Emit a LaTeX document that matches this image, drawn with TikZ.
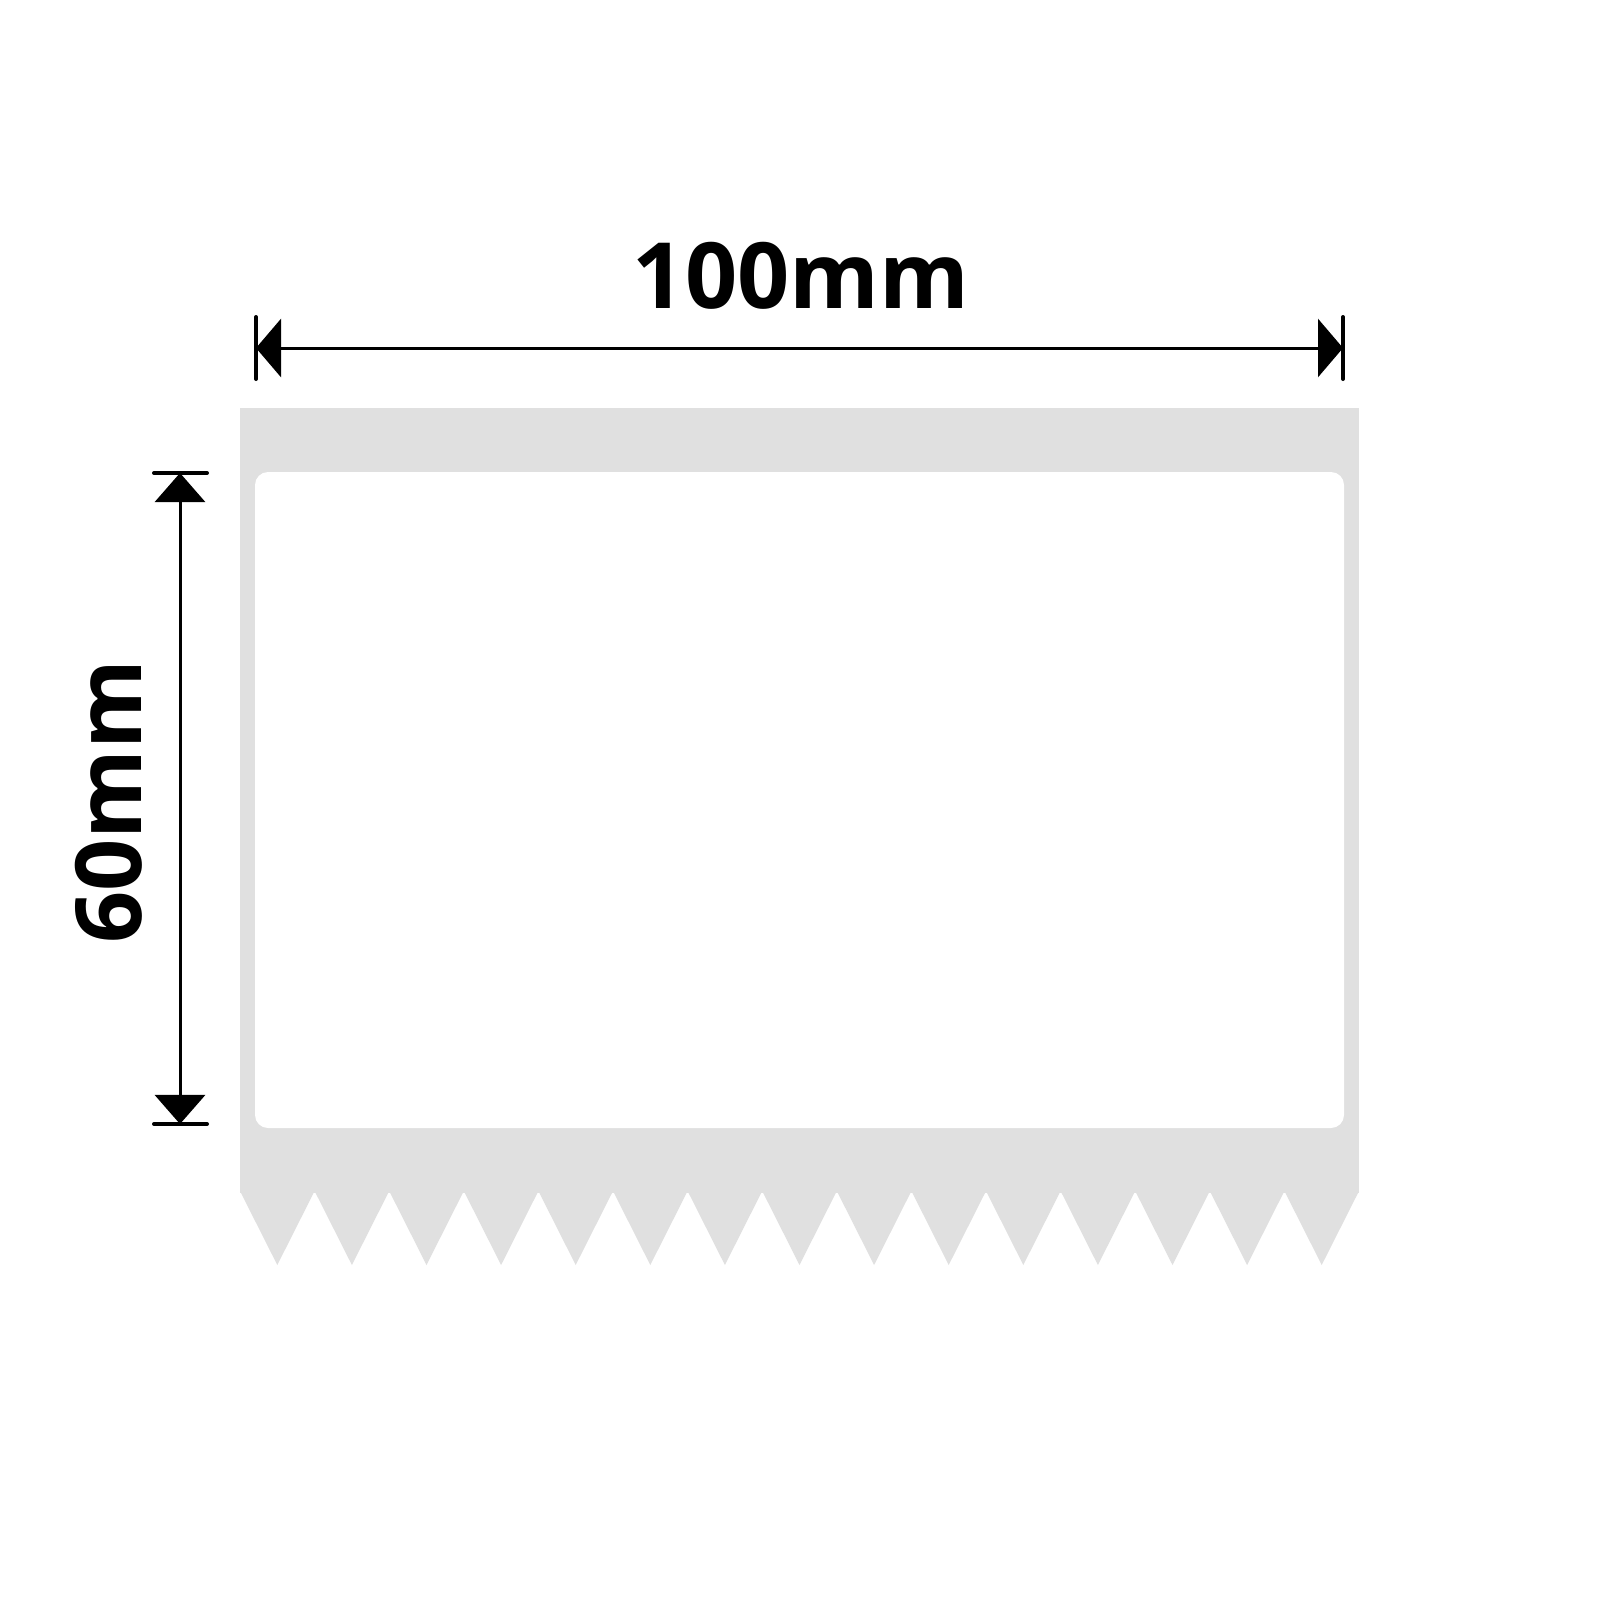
\documentclass[tikz,border=0pt]{standalone}
\usepackage{fontspec}
\setmainfont{Open Sans}
\usetikzlibrary{arrows.meta}
\definecolor{liner}{HTML}{E0E0E0}
\tikzset{
  dimline/.style={line width=0.03cm, -{Triangle[length=0.25cm,width=0.58cm]}},
  vdimline/.style={line width=0.03cm, {Triangle[length=0.29cm,width=0.5cm]}-{Triangle[length=0.29cm,width=0.5cm]}},
  tickline/.style={line width=0.04cm, line cap=round},
  dimlabel/.style={font=\bfseries\fontsize{26}{30}\selectfont, inner sep=0pt},
}
\begin{document}
\begin{tikzpicture}[x=0.01cm,y=-0.01cm]
\useasboundingbox[fill=white] (0,0) rectangle (1600,1600);
% backing liner
\fill[liner] (240,408) rectangle (1359,1193);
\foreach \i in {0,...,14}{
  \pgfmathsetmacro{\xa}{240+\i*74.6}
  \pgfmathsetmacro{\xb}{240+(\i+0.5)*74.6}
  \pgfmathsetmacro{\xc}{240+(\i+1)*74.6}
  \fill[liner] (\xa,1191) -- (\xb,1265) -- (\xc,1191) -- cycle;
}
% label
\fill[white, rounded corners=0.13cm] (255,472) rectangle (1344,1128);
% horizontal dimension
\coordinate (hl1) at (256,317);
\coordinate (hl2) at (256,379);
\coordinate (hr1) at (1343,317);
\coordinate (hr2) at (1343,379);
\coordinate (hA) at (256,348);
\coordinate (hB) at (1343,348);
\coordinate (hM) at (800,348);
\draw[tickline] (hl1) -- (hl2);
\draw[tickline] (hr1) -- (hr2);
\draw[dimline] (hM) -- (hA);
\draw[dimline] (hM) -- (hB);
\node[dimlabel, anchor=base] (wlabel) at (801,308) {100mm};
% vertical dimension
\coordinate (vt1) at (154,473);
\coordinate (vt2) at (207,473);
\coordinate (vb1) at (154,1124);
\coordinate (vb2) at (207,1124);
\coordinate (vA) at (180,473);
\coordinate (vB) at (180,1124);
\draw[tickline] (vt1) -- (vt2);
\draw[tickline] (vb1) -- (vb2);
\draw[vdimline] (vA) -- (vB);
\node[dimlabel, anchor=base, rotate=90] (hlabel) at (141,802) {60mm};
\end{tikzpicture}
\end{document}
